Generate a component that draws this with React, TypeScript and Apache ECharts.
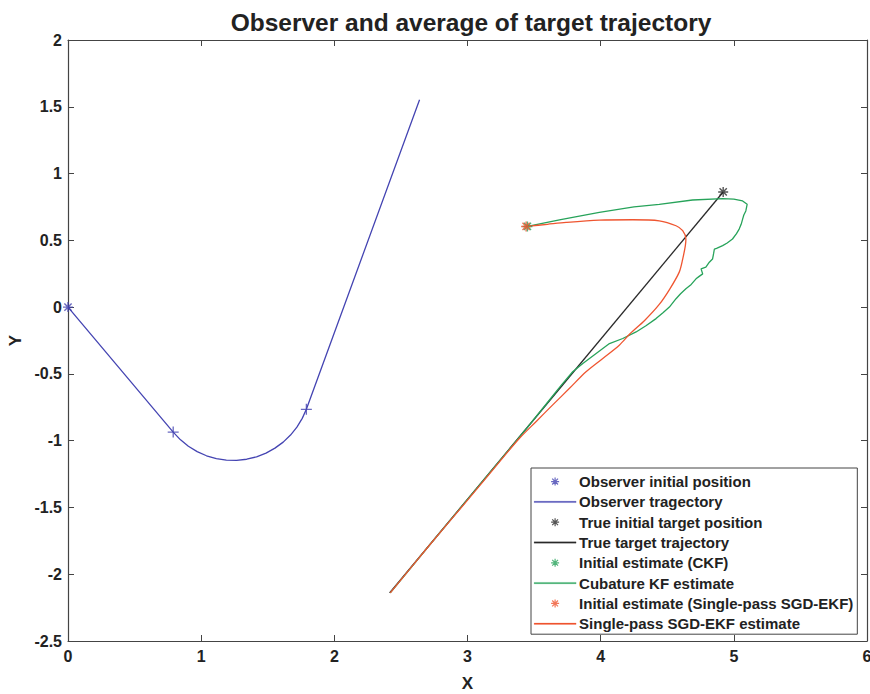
import React, { useEffect, useRef } from "react";
import * as echarts from "echarts";

const FONT = "'Liberation Sans', Arial, Helvetica, sans-serif";

const xTicks = [0, 1, 2, 3, 4, 5, 6];
const yTicks = [-2.5, 2];

const observerStart: number[][] = [[0, 0]];
const observerPath: number[][] = [
  [0, 0], [0.79, -0.936], [0.845, -0.994], [0.904, -1.042], [0.97, -1.082], [1.04, -1.113],
  [1.114, -1.134], [1.189, -1.146], [1.266, -1.147], [1.342, -1.139], [1.416, -1.121],
  [1.487, -1.093], [1.554, -1.056], [1.616, -1.011], [1.671, -0.958], [1.719, -0.899],
  [1.759, -0.833], [1.79, -0.765], [2.64, 1.553],
];
const observerMarks: number[][] = [[0.79, -0.936], [1.79, -0.765]];

const trueStart: number[][] = [[4.92, 0.862]];
const truePath: number[][] = [[4.92, 0.862], [2.415, -2.14]];

const ckfStart: number[][] = [[3.45, 0.604]];
const ckfPath: number[][] = [
  [3.45, 0.604], [3.7, 0.655], [3.99, 0.709], [4.25, 0.75], [4.44, 0.77], [4.69, 0.802],
  [4.916, 0.813], [5.0, 0.808], [5.066, 0.795], [5.1, 0.77], [5.095, 0.745], [5.09, 0.72],
  [5.075, 0.69], [5.066, 0.659], [5.055, 0.62], [5.04, 0.584], [5.02, 0.55], [4.99, 0.51],
  [4.95, 0.48], [4.916, 0.46], [4.87, 0.44], [4.854, 0.435], [4.848, 0.4], [4.84, 0.36],
  [4.816, 0.336], [4.79, 0.299], [4.754, 0.286], [4.766, 0.249], [4.74, 0.23], [4.716, 0.212],
  [4.68, 0.17], [4.64, 0.137], [4.6, 0.1], [4.566, 0.063], [4.516, 0.0], [4.47, -0.04],
  [4.416, -0.086], [4.34, -0.14], [4.266, -0.186], [4.166, -0.235], [4.066, -0.273],
  [3.966, -0.347], [3.866, -0.422], [3.79, -0.484], [3.7, -0.59], [3.62, -0.69],
  [3.45, -0.9], [3.3, -1.08], [3.0, -1.44], [2.7, -1.8], [2.42, -2.14],
];

const ekfStart: number[][] = [[3.44, 0.604]];
const ekfPath: number[][] = [
  [3.44, 0.604], [3.6, 0.62], [3.74, 0.634], [3.99, 0.651], [4.24, 0.654], [4.44, 0.646],
  [4.566, 0.609], [4.616, 0.572], [4.64, 0.51], [4.636, 0.46], [4.616, 0.36], [4.59, 0.262],
  [4.52, 0.137], [4.44, 0.02], [4.33, -0.1], [4.22, -0.2], [4.14, -0.285], [4.016, -0.384],
  [3.89, -0.484], [3.766, -0.608], [3.64, -0.732], [3.516, -0.856], [3.392, -0.98],
  [3.285, -1.105], [3.005, -1.44], [2.7, -1.8], [2.42, -2.14],
];

const legendNames = [
  "Observer initial position",
  "Observer tragectory",
  "True initial target position",
  "True target trajectory",
  "Initial estimate (CKF)",
  "Cubature KF estimate",
  "Initial estimate (Single-pass SGD-EKF)",
  "Single-pass SGD-EKF estimate",
];

const BLUE = "#4444b2";
const BLACK = "#2a2a2a";
const GREEN = "#27a35a";
const RED = "#ef5530";

const STAR = "path://M0,-4L0,4M-4,0L4,0M-2.9,-2.9L2.9,2.9M-2.9,2.9L2.9,-2.9";
const STAR_LEGEND = "path://M-7,-7M0,-4L0,4M-4,0L4,0M-2.9,-2.9L2.9,2.9M-2.9,2.9L2.9,-2.9M7,7";
const LINE_LEGEND = "path://M0,0M0,6.3L42,6.3L42,7.7L0,7.7ZM42,14";
const PLUS = "path://M0,-5L0,5M-5,0L5,0";

export default function App() {
  const ref = useRef<HTMLDivElement>(null);
  useEffect(() => {
    if (!ref.current) return;
    const chart = echarts.init(ref.current, undefined, { renderer: "svg" });
    const axisLine = { show: true, onZero: false, lineStyle: { color: "#444", width: 1.2 } };
    const tick = { show: true, inside: true, length: 6, lineStyle: { color: "#444" } };
    const label = { fontFamily: FONT, fontWeight: "bold" as const, fontSize: 16, color: "#222" };
    const nameStyle = { fontFamily: FONT, fontWeight: "bold" as const, fontSize: 17, lineHeight: 17, color: "#222" };
    const starSeries = (name: string, data: number[][], c: string) => ({
      name, type: "scatter", data, symbol: STAR, symbolSize: 10,
      itemStyle: { color: c, borderColor: c, borderWidth: 1.4 }, z: 5,
    });
    const lineSeries = (name: string, data: number[][], c: string, smooth: boolean | number = false) => ({
      name, type: "line", data, symbol: "none", showSymbol: false, smooth,
      lineStyle: { color: c, width: 1.3 }, itemStyle: { color: c },
    });
    const legendItem = (name: string, c: string, star: boolean) =>
      star
        ? { name, icon: STAR_LEGEND, itemStyle: { color: c, borderColor: c, borderWidth: 1.2 } }
        : { name, icon: LINE_LEGEND, itemStyle: { color: c, borderColor: c, borderWidth: 0.2 } };
    chart.setOption({
      animation: false,
      backgroundColor: "#fff",
      title: {
        text: "Observer and average of target trajectory",
        left: 466, top: 5, textAlign: "center",
        textStyle: { fontFamily: FONT, fontWeight: "bold", fontSize: 24.5, color: "#222" },
      },
      grid: { left: 68, right: 3, top: 40, bottom: 53, containLabel: false, outerBoundsMode: "none" },
      xAxis: [
        {
          type: "value", min: xTicks[0], max: xTicks[xTicks.length - 1], interval: 1, position: "bottom",
          axisLine, axisTick: tick, splitLine: { show: false },
          axisLabel: { ...label, margin: 7 },
          name: "X", nameLocation: "middle", nameGap: 34, nameTextStyle: nameStyle,
        },
        {
          type: "value", min: xTicks[0], max: xTicks[xTicks.length - 1], interval: 1, position: "top",
          axisLine, axisTick: tick, splitLine: { show: false }, axisLabel: { show: false },
        },
      ],
      yAxis: [
        {
          type: "value", min: yTicks[0], max: yTicks[1], interval: 0.5, position: "left",
          axisLine, axisTick: tick, splitLine: { show: false },
          axisLabel: { ...label, margin: 6 },
          name: "Y", nameLocation: "middle", nameGap: 44, nameRotate: 90, nameTextStyle: nameStyle,
        },
        {
          type: "value", min: yTicks[0], max: yTicks[1], interval: 0.5, position: "right",
          axisLine, axisTick: tick, splitLine: { show: false }, axisLabel: { show: false },
        },
      ],
      legend: {
        orient: "vertical", left: 531, top: 468,
        padding: [6, 4, 3, 3], itemGap: 5.2, itemWidth: 42, itemHeight: 14,
        borderColor: "#444", borderWidth: 1, backgroundColor: "#fff",
        textStyle: {
          fontFamily: FONT, fontWeight: "bold", fontSize: 15, lineHeight: 15, color: "#222",
          padding: [0, 0, 0, -2],
        },
        data: [
          legendItem(legendNames[0], BLUE, true),
          legendItem(legendNames[1], BLUE, false),
          legendItem(legendNames[2], BLACK, true),
          legendItem(legendNames[3], BLACK, false),
          legendItem(legendNames[4], GREEN, true),
          legendItem(legendNames[5], GREEN, false),
          legendItem(legendNames[6], RED, true),
          legendItem(legendNames[7], RED, false),
        ],
      },
      series: [
        lineSeries(legendNames[1], observerPath, BLUE),
        {
          name: "observer marks", type: "scatter", data: observerMarks, symbol: PLUS, symbolSize: 11,
          itemStyle: { color: BLUE, borderColor: BLUE, borderWidth: 1.3 },
        },
        starSeries(legendNames[0], observerStart, BLUE),
        lineSeries(legendNames[3], truePath, BLACK),
        starSeries(legendNames[2], trueStart, BLACK),
        lineSeries(legendNames[5], ckfPath, GREEN),
        starSeries(legendNames[4], ckfStart, GREEN),
        lineSeries(legendNames[7], ekfPath, RED, 0.3),
        starSeries(legendNames[6], ekfStart, RED),
      ],
    });
    return () => chart.dispose();
  }, []);
  return (
    <div
      ref={ref}
      style={{ position: "absolute", left: 0, top: 0, width: 870, height: 694 }}
    />
  );
}
